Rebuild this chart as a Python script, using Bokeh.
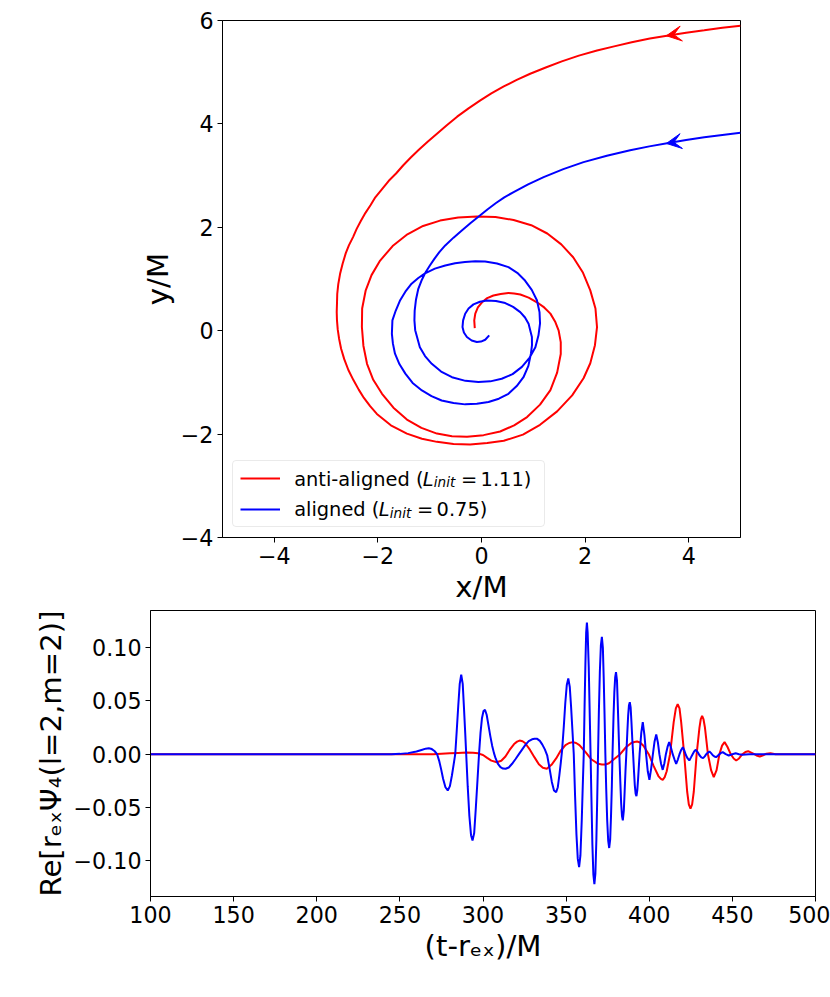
from bokeh.plotting import figure
from bokeh.models import (Range1d, FixedTicker, CustomJSTickFormatter, Legend,
                          LegendItem, Label, Arrow, VeeHead)
from bokeh.embed import file_html
from bokeh.resources import INLINE

# ---------------- data: orbits (x/M, y/M) ----------------
red_orbit = [
    (5.00, 5.90), (4.65, 5.86), (4.30, 5.81), (3.95, 5.765), (3.61, 5.71), (3.25, 5.65), (2.90, 5.58),
    (2.56, 5.50), (2.23, 5.42), (1.88, 5.32), (1.55, 5.21), (1.24, 5.09), (0.94, 4.97), (0.68, 4.85),
    (0.43, 4.725), (0.19, 4.59), (-0.03, 4.45), (-0.25, 4.30), (-0.47, 4.14), (-0.67, 3.975), (-0.86, 3.81),
    (-1.04, 3.655), (-1.21, 3.50), (-1.37, 3.345), (-1.51, 3.20), (-1.65, 3.04), (-1.79, 2.90),
    (-1.92, 2.74), (-2.05, 2.58), (-2.14, 2.43), (-2.24, 2.28), (-2.33, 2.12), (-2.41, 1.97),
    (-2.48, 1.81), (-2.56, 1.65), (-2.62, 1.50), (-2.68, 1.30), (-2.73, 1.10), (-2.765, 0.90),
    (-2.785, 0.71), (-2.79, 0.52), (-2.795, 0.36), (-2.79, 0.20), (-2.775, 0.02), (-2.75, -0.15),
    (-2.71, -0.35), (-2.65, -0.55), (-2.57, -0.76), (-2.47, -0.96), (-2.37, -1.14), (-2.27, -1.30),
    (-2.15, -1.46), (-2.02, -1.61), (-1.75, -1.83), (-1.44, -1.99), (-1.15, -2.09), (-0.86, -2.15),
    (-0.54, -2.19), (-0.22, -2.20), (0.11, -2.17), (0.43, -2.13), (0.80, -2.01), (1.13, -1.82),
    (1.46, -1.56), (1.75, -1.25), (1.97, -0.92), (2.10, -0.63), (2.19, -0.28), (2.23, 0.07), (2.20, 0.43),
    (2.10, 0.78), (1.96, 1.12), (1.77, 1.42), (1.54, 1.67), (1.27, 1.88), (0.96, 2.04), (0.62, 2.14),
    (0.27, 2.20), (-0.09, 2.21), (-0.45, 2.19), (-0.80, 2.13), (-1.128, 2.026), (-1.43, 1.865),
    (-1.716, 1.637), (-1.957, 1.356), (-2.123, 1.075), (-2.237, 0.774), (-2.304, 0.43), (-2.309, 0.071),
    (-2.28, -0.29), (-2.21, -0.64), (-2.09, -0.95), (-1.92, -1.22), (-1.70, -1.49), (-1.44, -1.72),
    (-1.16, -1.88), (-0.86, -1.99), (-0.57, -2.04), (-0.28, -2.05), (0.04, -2.02), (0.36, -1.95),
    (0.63, -1.83), (0.88, -1.67), (1.13, -1.43), (1.33, -1.15), (1.46, -0.81), (1.53, -0.45),
    (1.53, -0.22), (1.49, 0.00), (1.42, 0.18), (1.33, 0.33), (1.21, 0.45), (1.07, 0.55), (0.91, 0.64),
    (0.75, 0.70), (0.63, 0.72), (0.52, 0.73), (0.37, 0.71), (0.23, 0.68), (0.11, 0.63), (0.01, 0.55),
    (-0.07, 0.45), (-0.12, 0.33), (-0.14, 0.20), (-0.13, 0.05)]

blue_orbit = [
    (5.00, 3.83), (4.65, 3.785), (4.30, 3.74), (3.95, 3.69), (3.61, 3.63), (3.24, 3.565), (2.87, 3.49),
    (2.42, 3.385), (1.97, 3.26), (1.58, 3.125), (1.20, 2.97), (0.90, 2.83), (0.62, 2.68), (0.44, 2.58),
    (0.28, 2.47), (0.12, 2.35), (-0.03, 2.23), (-0.21, 2.085), (-0.38, 1.94), (-0.54, 1.80), (-0.70, 1.65),
    (-0.81, 1.525), (-0.91, 1.39), (-1.00, 1.255), (-1.09, 1.11), (-1.16, 0.965), (-1.22, 0.81),
    (-1.265, 0.60), (-1.29, 0.39), (-1.295, 0.20), (-1.28, 0.01), (-1.19, -0.32), (-1.09, -0.49),
    (-0.96, -0.64), (-0.78, -0.79), (-0.57, -0.90), (-0.31, -0.97), (-0.06, -0.99), (0.17, -0.98),
    (0.39, -0.93), (0.60, -0.84), (0.78, -0.70), (0.93, -0.52), (1.04, -0.32), (1.10, -0.09), (1.13, 0.14),
    (1.12, 0.36), (1.07, 0.59), (0.97, 0.79), (0.84, 0.97), (0.69, 1.12), (0.52, 1.23), (0.30, 1.30),
    (0.07, 1.34), (-0.12, 1.345), (-0.32, 1.33), (-0.51, 1.305), (-0.70, 1.26), (-0.90, 1.20), (-1.09, 1.11),
    (-1.22, 1.02), (-1.35, 0.91), (-1.47, 0.755), (-1.57, 0.59), (-1.655, 0.39), (-1.72, 0.20),
    (-1.73, -0.06), (-1.71, -0.25), (-1.67, -0.445), (-1.585, -0.645), (-1.47, -0.83), (-1.33, -1.01),
    (-1.15, -1.155), (-0.965, -1.265), (-0.77, -1.35), (-0.54, -1.40), (-0.315, -1.425), (-0.09, -1.415),
    (0.135, -1.38), (0.335, -1.315), (0.52, -1.22), (0.68, -1.07), (0.81, -0.90), (0.905, -0.68),
    (0.954, -0.445), (0.975, -0.28), (0.973, -0.12), (0.909, 0.135), (0.84, 0.255), (0.748, 0.36),
    (0.61, 0.46), (0.458, 0.534), (0.28, 0.575), (0.104, 0.586), (-0.03, 0.56), (-0.155, 0.509),
    (-0.25, 0.43), (-0.315, 0.328), (-0.355, 0.20), (-0.367, 0.07), (-0.34, -0.035), (-0.282, -0.123),
    (-0.19, -0.19), (-0.09, -0.22), (-0.01, -0.21), (0.072, -0.175), (0.149, -0.09)]

red_x = [p[0] for p in red_orbit]
red_y = [p[1] for p in red_orbit]
blue_x = [p[0] for p in blue_orbit]
blue_y = [p[1] for p in blue_orbit]

# arrow heads on the incoming orbits (tail -> tip, direction of motion)
arrow_tail_x = [4.00, 4.00]
arrow_tail_y = [5.77, 3.69]
arrow_tip_x = [3.57, 3.57]
arrow_tip_y = [5.705, 3.622]

# ---------------- data: waveforms (t-r_ex)/M , Re[r Psi4] ----------------
wave_red = [
    (100, 0.0), (270, 0.0), (280, 0.0008), (285, 0.0012), (290, 0.0015), (294, 0.0014), (297, 0.0008),
    (300, -0.0008), (302.5, -0.0035), (305, -0.0060), (308.3, -0.0075), (311, -0.0062), (313.5, -0.0022),
    (316, 0.0040), (318.7, 0.0095), (320.5, 0.0118), (322, 0.0128), (323.8, 0.0122), (325.3, 0.0105),
    (328.3, 0.0040), (331, -0.0030), (333.6, -0.0095), (336, -0.0128), (338.4, -0.0137), (341.2, -0.0100),
    (344, -0.0040), (346.6, 0.0030), (349.6, 0.0085), (351.8, 0.0105), (354, 0.0113), (356, 0.0105),
    (358, 0.0085), (361.7, 0.0020), (365.3, -0.0050), (369.3, -0.0090), (371.5, -0.0096), (373.7, -0.0097),
    (375.8, -0.0085), (377.8, -0.0060), (382.5, 0.0), (386, 0.0065), (389.2, 0.0105), (391, 0.0115),
    (392.7, 0.0119), (394.5, 0.0110), (396.5, 0.0080), (399.7, 0.0), (402.6, -0.0110), (405.5, -0.0205),
    (407, -0.0232), (408.1, -0.0240), (409.3, -0.0215), (410.5, -0.0160), (412.5, 0.0), (413.6, 0.0150),
    (414.7, 0.0300), (416, 0.0430), (417.1, 0.0470), (418.2, 0.0430), (419.2, 0.0300), (421.0, 0.0),
    (422.8, -0.0350), (423.8, -0.0470), (424.8, -0.0510), (425.8, -0.0470), (426.8, -0.0350), (428.5, 0.0),
    (430.2, 0.0250), (431.0, 0.0330), (431.8, 0.0360), (432.6, 0.0330), (433.5, 0.0250), (435.3, 0.0),
    (437.2, -0.0150), (438.8, -0.0215), (440.5, -0.0150), (442.2, 0.0), (443.8, 0.0080), (445.3, 0.0113),
    (447.0, 0.0070), (449.0, 0.0), (450.8, -0.0040), (452.3, -0.0059), (454.0, -0.0040), (456.0, 0.0),
    (457.8, 0.0020), (459.5, 0.0028), (461.3, 0.0015), (463.2, 0.0), (465.0, -0.0015), (466.5, -0.0022),
    (468.5, -0.0010), (470.5, 0.0005), (472.9, 0.0009), (476.0, 0.0), (500, 0.0)]

wave_blue = [
    (100, 0.0), (245, 0.0), (250, 0.0003), (255, 0.001), (260, 0.0025), (263, 0.004), (265.5, 0.0052),
    (267.4, 0.0056), (269.2, 0.0048), (270.8, 0.003), (272.4, 0.0), (273.6, -0.006), (274.8, -0.014),
    (276.0, -0.023), (277.4, -0.031), (278.8, -0.034), (280.1, -0.030), (281.3, -0.020), (282.4, -0.009),
    (283.3, 0.0), (284.2, 0.022), (285.1, 0.045), (286.0, 0.066), (286.9, 0.0745), (287.8, 0.066),
    (288.6, 0.042), (289.3, 0.020), (289.9, 0.0), (290.8, -0.030), (291.8, -0.058), (292.8, -0.076),
    (293.7, -0.081), (294.7, -0.074), (295.7, -0.050), (296.7, -0.024), (297.6, 0.0), (298.5, 0.020),
    (299.4, 0.034), (300.3, 0.0405), (301.2, 0.0416), (302.2, 0.037), (303.3, 0.027), (304.4, 0.017),
    (305.5, 0.008), (306.6, 0.001), (307.6, -0.004), (309.0, -0.009), (310.5, -0.0122), (312.0, -0.0135),
    (313.6, -0.0137), (315.5, -0.0125), (317.5, -0.009), (319.6, -0.0045), (321.6, 0.0), (323.6, 0.0045),
    (325.5, 0.0088), (327.5, 0.0122), (329.5, 0.014), (331.0, 0.0145), (332.6, 0.0144), (334.2, 0.0125),
    (335.7, 0.009), (337.2, 0.0045), (338.6, -0.001), (340.0, -0.013), (341.4, -0.026), (342.7, -0.034),
    (344.0, -0.0356), (345.0, -0.031), (345.9, -0.020), (346.8, -0.008), (347.6, 0.004), (348.6, 0.026),
    (349.5, 0.048), (350.4, 0.065), (351.3, 0.071), (352.2, 0.063), (353.0, 0.044), (353.8, 0.022),
    (354.6, 0.0), (355.4, -0.040), (356.2, -0.075), (357.0, -0.098), (357.8, -0.106), (358.6, -0.095),
    (359.4, -0.062), (360.0, -0.030), (360.6, 0.0), (361.1, 0.045), (361.6, 0.085), (362.05, 0.114),
    (362.5, 0.1235), (362.95, 0.114), (363.6, 0.082), (364.1, 0.045), (364.7, 0.0), (365.2, -0.040),
    (365.8, -0.085), (366.4, -0.113), (367.0, -0.122), (367.6, -0.112), (368.2, -0.080), (368.7, -0.042),
    (369.2, 0.0), (369.7, 0.040), (370.3, 0.078), (370.9, 0.102), (371.5, 0.110), (372.1, 0.100),
    (372.6, 0.072), (373.1, 0.038), (373.6, 0.0), (374.1, -0.032), (374.7, -0.062), (375.3, -0.081),
    (375.9, -0.088), (376.5, -0.080), (377.0, -0.058), (377.5, -0.030), (377.9, 0.0), (378.5, 0.035),
    (379.0, 0.058), (379.5, 0.072), (380.0, 0.077), (380.6, 0.069), (381.1, 0.045), (381.6, 0.020),
    (382.0, 0.0), (382.6, -0.026), (383.1, -0.046), (383.6, -0.058), (384.1, -0.062), (384.7, -0.053),
    (385.2, -0.035), (385.7, -0.016), (386.2, 0.0), (386.8, 0.020), (387.3, 0.036), (387.8, 0.046),
    (388.3, 0.0488), (388.8, 0.044), (389.3, 0.030), (389.8, 0.014), (390.3, 0.0), (390.8, -0.015),
    (391.3, -0.029), (391.8, -0.037), (392.3, -0.0394), (392.8, -0.034), (393.3, -0.023), (393.8, -0.010),
    (394.2, 0.0), (395.2, 0.020), (396.1, 0.030), (397.1, 0.018), (398.1, 0.0), (399.1, -0.016),
    (400.1, -0.024), (401.1, -0.014), (402.2, 0.0), (403.2, 0.012), (404.2, 0.0185), (405.2, 0.011),
    (406.1, 0.0), (407.1, -0.009), (408.1, -0.0147), (409.1, -0.0085), (410.0, 0.0), (411.0, 0.0068),
    (412.0, 0.0113), (413.0, 0.0065), (414.1, 0.0), (415.2, -0.005), (416.2, -0.0090), (417.2, -0.005),
    (418.2, 0.0), (419.2, 0.004), (420.2, 0.0066), (421.2, 0.003), (422.1, -0.001), (423.1, -0.004),
    (424.1, -0.0059), (425.1, -0.003), (426.1, 0.0), (427.0, 0.0025), (428.0, 0.0041), (429.1, 0.002),
    (430.2, -0.001), (431.3, -0.003), (432.4, -0.0037), (433.4, -0.002), (434.3, 0.0), (435.3, 0.0015),
    (436.2, 0.0025), (437.2, 0.001), (438.2, -0.001), (439.2, -0.0022), (440.2, -0.0028), (441.2, -0.0015),
    (442.2, 0.0), (443.2, 0.0012), (444.2, 0.0019), (446.0, 0.0), (447.8, -0.0012), (450.0, 0.0),
    (452.0, 0.0008), (454.0, 0.0), (456.0, -0.0005), (460.0, 0.0), (500, 0.0)]

t_red = [p[0] for p in wave_red]
v_red = [p[1] for p in wave_red]
t_blue = [p[0] for p in wave_blue]
v_blue = [p[1] for p in wave_blue]

# ---------------- texts and ticks ----------------
legend_names = ["anti-aligned", "aligned"]
legend_L = ["1.11", "0.75"]
top_xticks = [-4, -2, 0, 2, 4]
top_yticks = [-4, -2, 0, 2, 4, 6]
bot_xticks = [100, 150, 200, 250, 300, 350, 400, 450, 500]
bot_yticks = [-0.10, -0.05, 0.0, 0.05, 0.10]

RED = "#ff0000"
BLUE = "#0000ff"
FONT = "DejaVu Sans"
TICK_SIZE = "22.2px"
LABEL_SIZE = "29.2px"


def fmt(dec):
    return CustomJSTickFormatter(
        code="return (tick < 0 ? '\u2212' : '') + Math.abs(tick).toFixed(%d);" % dec)


def style(p, xlabel, ylabel, xticks, yticks, xdec, ydec):
    p.xgrid.visible = False
    p.ygrid.visible = False
    p.outline_line_color = "black"
    p.outline_line_width = 1
    p.outline_line_alpha = 1
    p.background_fill_color = "white"
    p.border_fill_color = "white"
    p.xaxis.axis_label = xlabel
    p.yaxis.axis_label = ylabel
    p.xaxis.ticker = FixedTicker(ticks=xticks)
    p.yaxis.ticker = FixedTicker(ticks=yticks)
    p.xaxis.formatter = fmt(xdec)
    p.yaxis.formatter = fmt(ydec)
    for ax in (p.xaxis, p.yaxis):
        ax.axis_label_text_font = FONT
        ax.axis_label_text_font_size = LABEL_SIZE
        ax.axis_label_text_font_style = "normal"
        ax.axis_label_text_color = "black"
        ax.major_label_text_font = FONT
        ax.major_label_text_font_size = TICK_SIZE
        ax.major_label_text_color = "black"
        ax.major_tick_in = 0
        ax.major_tick_out = 5
        ax.minor_tick_in = 0
        ax.minor_tick_out = 0
        ax.major_tick_line_color = "black"
        ax.axis_line_color = "black"
        ax.major_label_standoff = 4
        ax.axis_label_standoff = 3


# ---------------- top: orbits ----------------
p1 = figure(width=822, height=610, x_range=Range1d(-5, 5), y_range=Range1d(-4, 6),
            output_backend="svg", toolbar_location=None,
            min_border_left=222, min_border_right=82, min_border_top=20, min_border_bottom=73)
style(p1, "x/M", "y/M", top_xticks, top_yticks, 0, 0)

r_red = p1.line(red_x, red_y, line_color=RED, line_width=2)
r_blue = p1.line(blue_x, blue_y, line_color=BLUE, line_width=2)

for xs, ys, xe, ye, c in zip(arrow_tail_x, arrow_tail_y, arrow_tip_x, arrow_tip_y, [RED, BLUE]):
    p1.add_layout(Arrow(x_start=xs, y_start=ys, x_end=xe, y_end=ye, line_alpha=0,
                        end=VeeHead(size=15, fill_color=c, line_color=c, line_width=1)))

legend = Legend(items=[LegendItem(label=" ", renderers=[r_red]),
                       LegendItem(label=" ", renderers=[r_blue])],
                location="bottom_left", margin=10, padding=7, spacing=11,
                glyph_width=40, glyph_height=20, label_width=242, label_height=20,
                label_standoff=15, label_text_font_size="8px",
                border_line_color="#d6d6d6", border_line_width=1,
                background_fill_alpha=0)
if "border_radius" in Legend.properties():
    legend.border_radius = 4
p1.add_layout(legend)

x0 = -3.617
row_y = [-2.876, -3.460]
w1 = [128.5, 84.5]
for name, lv, yb, w in zip(legend_names, legend_L, row_y, w1):
    common = dict(x=x0, y=yb, text_font=FONT, text_baseline="alphabetic", text_color="black",
                  level="overlay")
    p1.add_layout(Label(text=name + " (", x_offset=0, text_font_size="19.4px", **common))
    p1.add_layout(Label(text="L", x_offset=w, text_font_size="19.4px",
                        text_font_style="italic", **common))
    p1.add_layout(Label(text="init", x_offset=w + 11.2, y_offset=-3, text_font_size="13.6px",
                        text_font_style="italic", **common))
    p1.add_layout(Label(text="=", x_offset=w + 38.3, text_font_size="19.4px", **common))
    p1.add_layout(Label(text=lv + ")", x_offset=w + 57.9, text_font_size="19.4px", **common))

# ---------------- bottom: waveforms ----------------
p2 = figure(width=830, height=359, x_range=Range1d(100, 500), y_range=Range1d(-0.1335, 0.1348),
            output_backend="svg", toolbar_location=None,
            min_border_left=150, min_border_right=15, min_border_top=0, min_border_bottom=73)
style(p2, "(t-r\u2091\u2093)/M", "Re[r\u2091\u2093\u03a8\u2084(l=2,m=2)]",
      bot_xticks, bot_yticks, 0, 2)

p2.line(t_red, v_red, line_color=RED, line_width=2)
p2.line(t_blue, v_blue, line_color=BLUE, line_width=2)

open("out.html", "w").write(file_html([p1, p2], INLINE))
